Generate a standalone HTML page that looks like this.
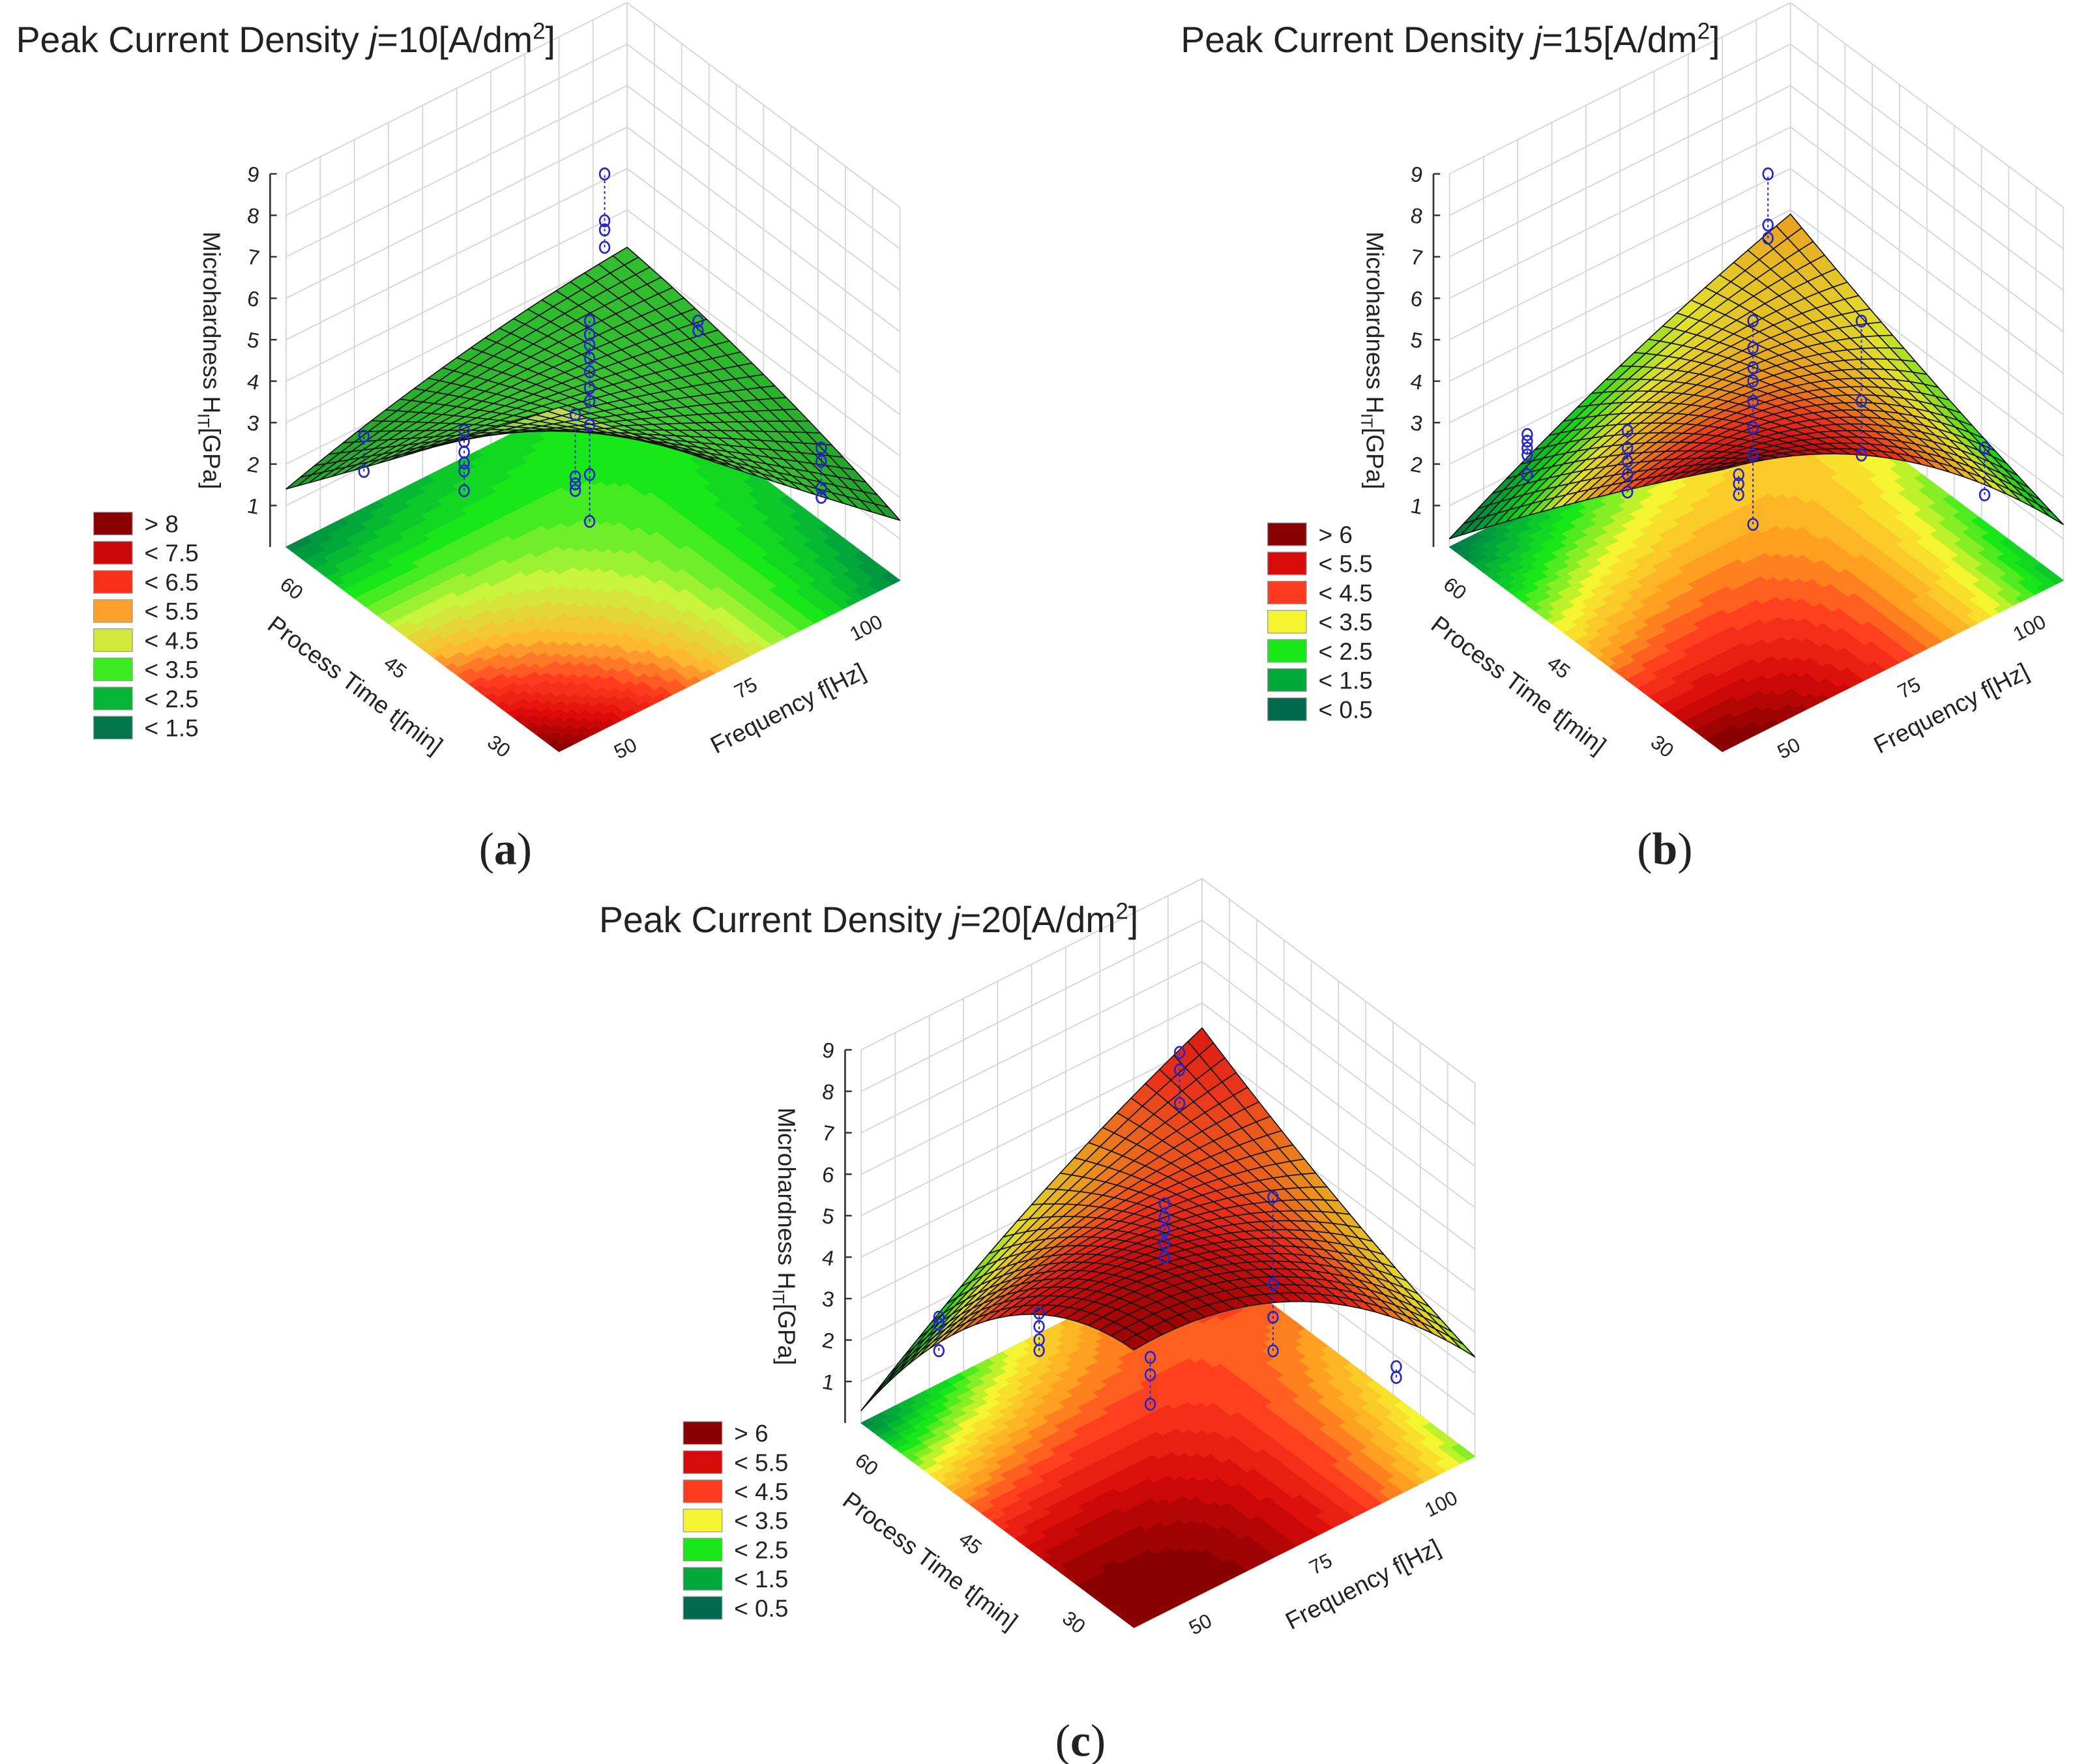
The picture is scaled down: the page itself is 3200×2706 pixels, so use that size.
<!DOCTYPE html>
<html><head><meta charset="utf-8"><style>
html,body{margin:0;padding:0;background:#fff;}
svg{display:block;}
text{font-family:"Liberation Sans",sans-serif;fill:#222;}
</style></head><body>
<svg id="fig" xmlns="http://www.w3.org/2000/svg" width="3200" height="2706" viewBox="0 0 1560 1319" preserveAspectRatio="none">
<rect x="0" y="0" width="1560" height="1319" fill="#fff"/>
</svg>
<script>
// ---------- data ----------
const timeTicks = [30, 45, 60];
const freqTicks = [50, 75, 100];
const zTicks = [1,2,3,4,5,6,7,8,9];
// fitted surface values on 3x3 design grid: rows t=30,45,60 ; cols f=50,75,100
const surfA = [[8.3, 4.8, 1.45],[4.8, 3.8, 2.5],[1.4, 2.5, 3.1]];
const surfB = [[6.8, 5.0, 1.35],[3.6, 4.2, 2.5],[0.2, 2.3, 3.9]];
const surfC = [[6.7, 5.8, 2.4],[5.0, 5.2, 3.7],[0.3, 3.2, 5.4]];
const legendA = ["> 8","< 7.5","< 6.5","< 5.5","< 4.5","< 3.5","< 2.5","< 1.5"];
const legendBC = ["> 6","< 5.5","< 4.5","< 3.5","< 2.5","< 1.5","< 0.5"];
// measured points (process time, frequency, microhardness)
const ptsTA = [45,45,45,45,45,45,45,45,45,45,45,45,45,45,45,45,45,45,45,45,45,45,45,45,45,45,45,45,40,40,40,40];
const ptsFA = [41.4,41.4,56.1,56.1,56.1,56.1,56.1,56.1,72.4,72.4,72.4,72.4,74.5,74.5,74.5,74.5,74.5,74.5,74.5,74.5,74.5,74.5,76.7,76.7,76.7,76.7,90.4,90.4,101.8,101.8,101.8,101.8];
const ptsZA = [5.85,5.0,4.77,4.51,4.25,3.99,3.8,3.32,3.81,2.31,2.14,1.98,5.9,5.57,5.32,5.0,4.67,4.28,3.96,3.38,2.19,1.06,9.26,8.13,7.91,7.49,4.58,4.35,1.4,1.08,0.43,0.21];
const ptsTB = [45,45,45,45,45,45,45,45,45,45,45,45,45,45,45,45,45,45,45,45,45,45,45,45,45,45,45,40,40];
const ptsFB = [41.4,41.4,41.4,41.4,41.4,56.1,56.1,56.1,56.1,56.1,72.4,72.4,72.4,74.5,74.5,74.5,74.5,74.5,74.5,74.5,74.5,76.7,76.7,76.7,90.4,90.4,90.4,101.8,101.8];
const ptsZB = [5.89,5.73,5.56,5.4,4.92,4.77,4.35,4.03,3.71,3.29,2.36,2.14,1.88,5.9,5.25,4.77,4.45,3.96,3.32,2.67,0.99,9.26,8.03,7.71,4.58,2.65,1.35,1.4,0.27];
const ptsTC = [45,45,45,45,45,45,45,45,45,45,45,45,45,45,45,45,45,45,45,45,45,45,40,40];
const ptsFC = [41.4,41.4,41.4,56.1,56.1,56.1,56.1,72.4,72.4,72.4,74.5,74.5,74.5,74.5,74.5,76.7,76.7,76.7,90.4,90.4,90.4,90.4,101.8,101.8];
const ptsZC = [5.73,5.56,4.92,4.61,4.29,3.97,3.71,2.2,1.78,1.07,5.73,5.41,5.09,4.77,4.44,9.2,8.78,7.97,4.58,2.48,1.68,0.87,0.37,0.11];

// ---------- helpers ----------
const NS = "http://www.w3.org/2000/svg";
const svg = document.getElementById('fig');
function mk(tag, attrs, parent){
  const e = document.createElementNS(NS, tag);
  for (const k in attrs) e.setAttribute(k, attrs[k]);
  (parent||svg).appendChild(e); return e;
}
function hex(c){return [parseInt(c.substr(1,2),16),parseInt(c.substr(3,2),16),parseInt(c.substr(5,2),16)];}
const stopsA = [[1,"#006a4e"],[2,"#00a83a"],[3,"#18e818"],[4,"#c8f43c"],[5,"#ffb830"],[6,"#ff3a1e"],[7,"#dd0a0a"],[8,"#8a0000"]];
const surfStopsA = [[1,"#1a9a30"],[2.5,"#2cc430"],[4,"#48e03a"],[6,"#78e840"],[8,"#d4ec60"]];
const stopsBC = [[0,"#006a4e"],[1,"#00a83a"],[2,"#18e818"],[3,"#f4f430"],[4,"#ffa020"],[4.8,"#ff3a1e"],[5.6,"#d80a0a"],[6.5,"#8a0000"]];
const surfStopsBC = [[0,"#006a4e"],[1,"#00a83a"],[2,"#18e818"],[3,"#f4f430"],[4,"#ffa020"],[4.8,"#ff3a1e"],[5.6,"#e41010"],[7,"#a00000"]];
function cmap(stops, z, k){
  k = k||1;
  let c;
  if (z<=stops[0][0]) c=hex(stops[0][1]);
  else if (z>=stops[stops.length-1][0]) c=hex(stops[stops.length-1][1]);
  else for (let i=0;i<stops.length-1;i++){
    if (z>=stops[i][0] && z<=stops[i+1][0]){
      const u=(z-stops[i][0])/(stops[i+1][0]-stops[i][0]);
      const a=hex(stops[i][1]), b=hex(stops[i+1][1]);
      c=[0,1,2].map(j=>a[j]+(b[j]-a[j])*u); break;
    }
  }
  return "rgb("+c.map(v=>Math.round(Math.min(255,v*k))).join(",")+")";
}
function lag(u){return [2*(u-.5)*(u-1), -4*u*(u-1), 2*u*(u-.5)];}
function surfVal(g,t,f){
  const a=lag((t-30)/30), b=lag((f-50)/50); let s=0;
  for(let i=0;i<3;i++)for(let j=0;j<3;j++) s+=a[i]*b[j]*g[i][j];
  return s;
}

function panel(cfg){
  const ox=cfg.ox, oy=cfg.oy;
  const X=(t,f)=>418+ox-6.8*(t-30)+5.1*(f-50);
  const Y=(t,f,z)=>562+oy-5.1*(t-30)-2.56*(f-50)-31*z;
  const P=(t,f,z)=>X(t,f).toFixed(2)+","+Y(t,f,z).toFixed(2);
  const g = mk('g',{});
  
  

  // walls
  const walls = mk('g',{stroke:"#d6d6d6","stroke-width":0.9,fill:"none"},g);
  
  
  for(let f=50;f<=100;f+=5) mk('line',{x1:X(60,f),y1:Y(60,f,0),x2:X(60,f),y2:Y(60,f,9)},walls);
  for(let t=30;t<=60;t+=3) mk('line',{x1:X(t,100),y1:Y(t,100,0),x2:X(t,100),y2:Y(t,100,9)},walls);
  for(let z=0;z<=9;z++){
    mk('line',{x1:X(60,50),y1:Y(60,50,z),x2:X(60,100),y2:Y(60,100,z)},walls);
    mk('line',{x1:X(60,100),y1:Y(60,100,z),x2:X(30,100),y2:Y(30,100,z)},walls);
  }

  // floor contour
  const fl = mk('g',{},g);
  
  
  const N=48;
  for(let i=0;i<N;i++)for(let j=0;j<N;j++){
    const t0=30+30*i/N, t1=30+30*(i+1)/N, f0=50+50*j/N, f1=50+50*(j+1)/N;
    let z=surfVal(cfg.surf,(t0+t1)/2,(f0+f1)/2);
    z=Math.round(z*4)/4;
    const col=cmap(cfg.stops,z);
    mk('polygon',{points:[P(t0,f0,0),P(t1,f0,0),P(t1,f1,0),P(t0,f1,0)].join(" "),fill:col,stroke:col,"stroke-width":0.6},fl);
  }

  // z axis
  const ax = mk('g',{},g);
  
  
  const ax0=X(60,50)-12;
  mk('line',{x1:ax0,y1:Y(60,50,0),x2:ax0,y2:Y(60,50,9),stroke:"#333","stroke-width":1.3},ax);
  zTicks.forEach(z=>{
    const y=Y(60,50,z);
    mk('line',{x1:ax0,y1:y,x2:ax0+5,y2:y,stroke:"#333","stroke-width":1.2},ax);
    const tx=mk('text',{x:ax0-8,y:y+6,"font-size":16,"text-anchor":"end",transform:`rotate(10 ${ax0-12} ${y})`},ax);
    
    
    tx.textContent=z;
  });
  const zl=mk('text',{x:0,y:0,"font-size":18,"text-anchor":"middle",transform:`translate(${ax0-50},${Y(60,50,4.5)}) rotate(90)`},g);
  
  
  zl.innerHTML='Microhardness  H<tspan font-size="12" dy="4">IT</tspan><tspan dy="-4">[GPa]</tspan>';

  // floor axis labels
  const L0x=X(60,50)+1, L0y=Y(60,50,0)+35;
  timeTicks.forEach(t=>{
    const x=L0x+(60-t)/15*77.5, y=L0y+(60-t)/15*59;
    const tx=mk('text',{x:x,y:y,"font-size":15,"text-anchor":"middle",transform:`rotate(38 ${x} ${y})`},g);
    
    
    tx.textContent=t;
  });
  const F0x=X(30,50)+52, F0y=Y(30,50,0)+2;
  freqTicks.forEach(f=>{
    const x=F0x+(f-50)/25*90, y=F0y-(f-50)/25*45;
    const tx=mk('text',{x:x,y:y,"font-size":15,"text-anchor":"middle",transform:`rotate(-27 ${x} ${y})`},g);
    
    
    tx.textContent=f;
  });
  {
    const x=X(60,50)+48, y=Y(60,50,0)+108;
    const tx=mk('text',{x:x,y:y,"font-size":18,"text-anchor":"middle",transform:`rotate(37 ${x} ${y})`},g);
    
    
    tx.textContent='Process Time  t[min]';
    const x2=X(30,50)+174, y2=Y(30,50,0)-27;
    const tx2=mk('text',{x:x2,y:y2,"font-size":18,"text-anchor":"middle",transform:`rotate(-27 ${x2} ${y2})`},g);
    
    
    tx2.textContent='Frequency  f[Hz]';
  }

  // surface mesh
  const sf = mk('g',{stroke:"#111","stroke-width":0.8,"stroke-linejoin":"round"},g);
  
  
  const M=24, quads=[];
  for(let i=0;i<M;i++)for(let j=0;j<M;j++){
    const t0=30+30*i/M, t1=30+30*(i+1)/M, f0=50+50*j/M, f1=50+50*(j+1)/M;
    const z00=surfVal(cfg.surf,t0,f0), z10=surfVal(cfg.surf,t1,f0), z11=surfVal(cfg.surf,t1,f1), z01=surfVal(cfg.surf,t0,f1);
    const zm=(z00+z10+z11+z01)/4;
    quads.push({d:(i+j), pts:[P(t0,f0,z00),P(t1,f0,z10),P(t1,f1,z11),P(t0,f1,z01)].join(" "), zm:zm});
  }
  quads.sort((a,b)=>b.d-a.d);
  quads.forEach(q=>mk('polygon',{points:q.pts,fill:cmap(cfg.sstops,q.zm,0.92)},sf));

  // points
  const pg = mk('g',{},g);
  
  
  const cols={};
  cfg.pT.forEach((t,k)=>{
    const key=t+"_"+cfg.pF[k];
    (cols[key]=cols[key]||{t:t,f:cfg.pF[k],z:[]}).z.push(cfg.pZ[k]);
  });
  Object.values(cols).forEach(c=>{
    const lo=Math.min(...c.z), hi=Math.max(...c.z);
    mk('line',{x1:X(c.t,c.f),y1:Y(c.t,c.f,lo),x2:X(c.t,c.f),y2:Y(c.t,c.f,hi),stroke:"#2a2ad0","stroke-width":1,"stroke-dasharray":"2,2"},pg);
  });
  cfg.pT.forEach((t,k)=>{
    const c=mk('ellipse',{cx:X(t,cfg.pF[k]),cy:Y(t,cfg.pF[k],cfg.pZ[k]),rx:3.6,ry:4.2,fill:"none",stroke:"#2626c8","stroke-width":1.3},pg);
    
    
  });

  // legend
  const lg = mk('g',{},g);
  
  
  cfg.leg.forEach((lab,k)=>{
    const y=cfg.ly+k*21.8;
    const zv = cfg.legZ[k];
    const r=mk('rect',{x:cfg.lx,y:y,width:29,height:17,fill:cmap(cfg.stops,zv),stroke:"#999","stroke-width":0.6},lg);
    
    
    const tx=mk('text',{x:cfg.lx+38,y:y+15,"font-size":18},lg);
    
    
    tx.textContent=lab;
  });

  // title + caption
  const tt=mk('text',{x:cfg.tx,y:cfg.ty,"font-size":27},g);
  
  
  tt.innerHTML='Peak Current Density <tspan font-style="italic">j</tspan>='+cfg.j+'[A/dm<tspan font-size="17" dy="-10">2</tspan><tspan dy="10">]</tspan>';
  const cp=mk('text',{x:cfg.cx,y:cfg.cy,"font-size":34,"text-anchor":"middle",style:"font-family:'Liberation Serif',serif"},g);
  
  
  cp.innerHTML='(<tspan font-weight="bold">'+cfg.cap+'</tspan>)';
}

panel({name:'panel-a',ox:0,oy:0,surf:surfA,stops:stopsA,sstops:surfStopsA,pT:ptsTA,pF:ptsFA,pZ:ptsZA,leg:legendA,legZ:[8.3,7.2,6.2,5.2,4.2,3.2,2.2,1.2],lx:70,ly:383,tx:12,ty:39,j:10,cx:378,cy:646,cap:'a'});
panel({name:'panel-b',ox:870,oy:0,surf:surfB,stops:stopsBC,sstops:surfStopsBC,pT:ptsTB,pF:ptsFB,pZ:ptsZB,leg:legendBC,legZ:[6.5,5.6,4.8,3,2,1,0],lx:948,ly:391,tx:883,ty:39,j:15,cx:1245,cy:646,cap:'b'});
panel({name:'panel-c',ox:430,oy:655,surf:surfC,stops:stopsBC,sstops:surfStopsBC,pT:ptsTC,pF:ptsFC,pZ:ptsZC,leg:legendBC,legZ:[6.5,5.6,4.8,3,2,1,0],lx:511,ly:1063,tx:448,ty:697,j:20,cx:808,cy:1313,cap:'c'});
</script>
</body></html>
